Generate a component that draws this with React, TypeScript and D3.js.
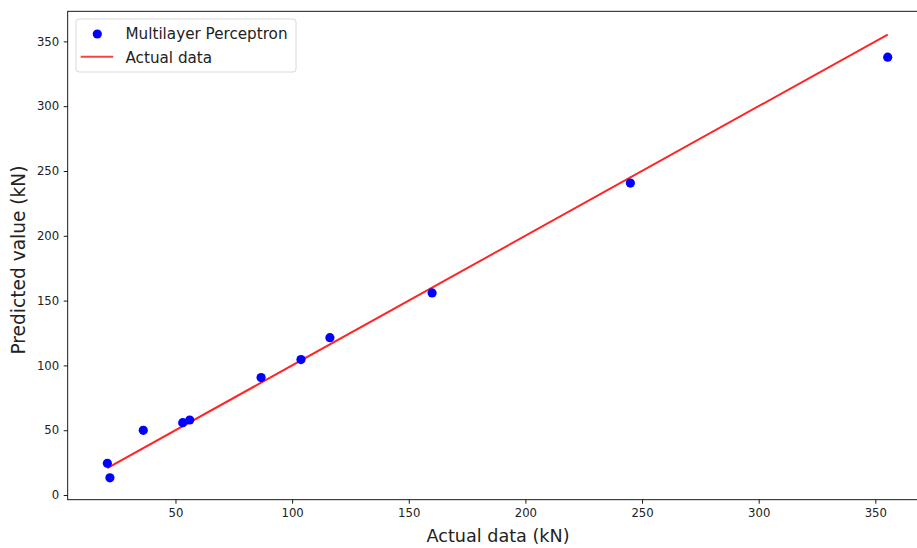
import { useEffect, useRef } from 'react';
import * as d3 from 'd3';

// actual (kN) vs predicted (kN) from the multilayer perceptron
const actual = [160.0, 20.8, 86.7, 355.3, 53.1, 103.8, 245.0, 36.2, 21.9, 116.2, 56.1];
const predicted = [155.9, 24.5, 90.6, 337.8, 55.8, 104.5, 240.7, 49.9, 13.3, 121.4, 57.9];

const xTicks = [50, 100, 150, 200, 250, 300, 350];
const yTicks = [0, 50, 100, 150, 200, 250, 300, 350];

const legendLabels = ['Multilayer Perceptron', 'Actual data'];

const WIDTH = 917;
const HEIGHT = 548;
const FONT = 'DejaVu Sans, sans-serif';

export default function App() {
  const svgRef = useRef<SVGSVGElement | null>(null);

  useEffect(() => {
    if (!svgRef.current) return;
    const svg = d3.select(svgRef.current);
    svg.selectAll('*').remove();

    const left = 67.7;
    const right = 928.4; // right spine falls outside the crop
    const top = 11.3;
    const bottom = 499.7;

    const x = d3.scaleLinear().domain([3.8, 372.75]).range([left, right]);
    const y = d3.scaleLinear().domain([-3.6, 373.2]).range([bottom, top]);

    // Red reference line (actual vs actual), drawn in data order
    const line = d3.line<number>()
      .x(d => x(d))
      .y(d => y(d));

    svg.append('path')
      .datum(actual)
      .attr('d', line)
      .style('fill', 'none')
      .style('stroke', 'rgba(255,0,0,0.85)')
      .style('stroke-width', 2);

    // Points
    svg.append('g')
      .selectAll('circle')
      .data(actual.map((a, i) => [a, predicted[i]]))
      .join('circle')
      .attr('cx', d => x(d[0]))
      .attr('cy', d => y(d[1]))
      .attr('r', 4.6)
      .style('fill', '#0000ff');

    // Axes
    const xAxis = svg.append('g')
      .attr('transform', `translate(0,${bottom})`)
      .call(d3.axisBottom(x).tickValues(xTicks).tickSize(4).tickPadding(5.5).tickFormat(d3.format('d')));
    const yAxis = svg.append('g')
      .attr('transform', `translate(${left},0)`)
      .call(d3.axisLeft(y).tickValues(yTicks).tickSize(4).tickPadding(4.5).tickFormat(d3.format('d')));

    [xAxis, yAxis].forEach(ax => {
      ax.select('.domain').remove();
      ax.selectAll('line').style('stroke', '#000').style('stroke-width', 0.9);
      ax.selectAll('text').style('font-family', FONT).style('font-size', '11.7px').style('fill', '#222');
    });

    // Spines
    svg.append('rect')
      .attr('x', left)
      .attr('y', top)
      .attr('width', right - left)
      .attr('height', bottom - top)
      .style('fill', 'none')
      .style('stroke', '#000')
      .style('stroke-width', 0.9);

    // Axis labels
    svg.append('text')
      .attr('x', (left + right) / 2)
      .attr('y', 541.5)
      .attr('text-anchor', 'middle')
      .style('font-family', FONT)
      .style('font-size', '17.6px')
      .style('fill', '#222')
      .text('Actual data (kN)');

    svg.append('text')
      .attr('transform', `translate(25,260) rotate(-90)`)
      .attr('text-anchor', 'middle')
      .style('font-family', FONT)
      .style('font-size', '18.6px')
      .style('fill', '#222')
      .text('Predicted value (kN)');

    // Legend
    const lg = svg.append('g').attr('transform', 'translate(76,19)');
    lg.append('rect')
      .attr('width', 220)
      .attr('height', 53)
      .attr('rx', 3)
      .style('fill', 'rgba(255,255,255,0.8)')
      .style('stroke', '#d9d9d9')
      .style('stroke-width', 1);

    lg.append('circle')
      .attr('cx', 21.3)
      .attr('cy', 15)
      .attr('r', 4.6)
      .style('fill', '#0000ff');

    lg.append('line')
      .attr('x1', 4.7)
      .attr('x2', 37.3)
      .attr('y1', 37.7)
      .attr('y2', 37.7)
      .style('stroke', 'rgba(255,0,0,0.75)')
      .style('stroke-width', 2);

    lg.selectAll('text.lbl')
      .data(legendLabels)
      .join('text')
      .attr('class', 'lbl')
      .attr('x', 49.5)
      .attr('y', (_, i) => 20.3 + i * 23.4)
      .style('font-family', FONT)
      .style('font-size', '15.2px')
      .style('fill', '#222')
      .text(d => d);
  }, []);

  return (
    <svg
      ref={svgRef}
      width={WIDTH}
      height={HEIGHT}
      style={{ position: 'absolute', left: 0, top: 0, background: '#fff', overflow: 'hidden' }}
    />
  );
}
